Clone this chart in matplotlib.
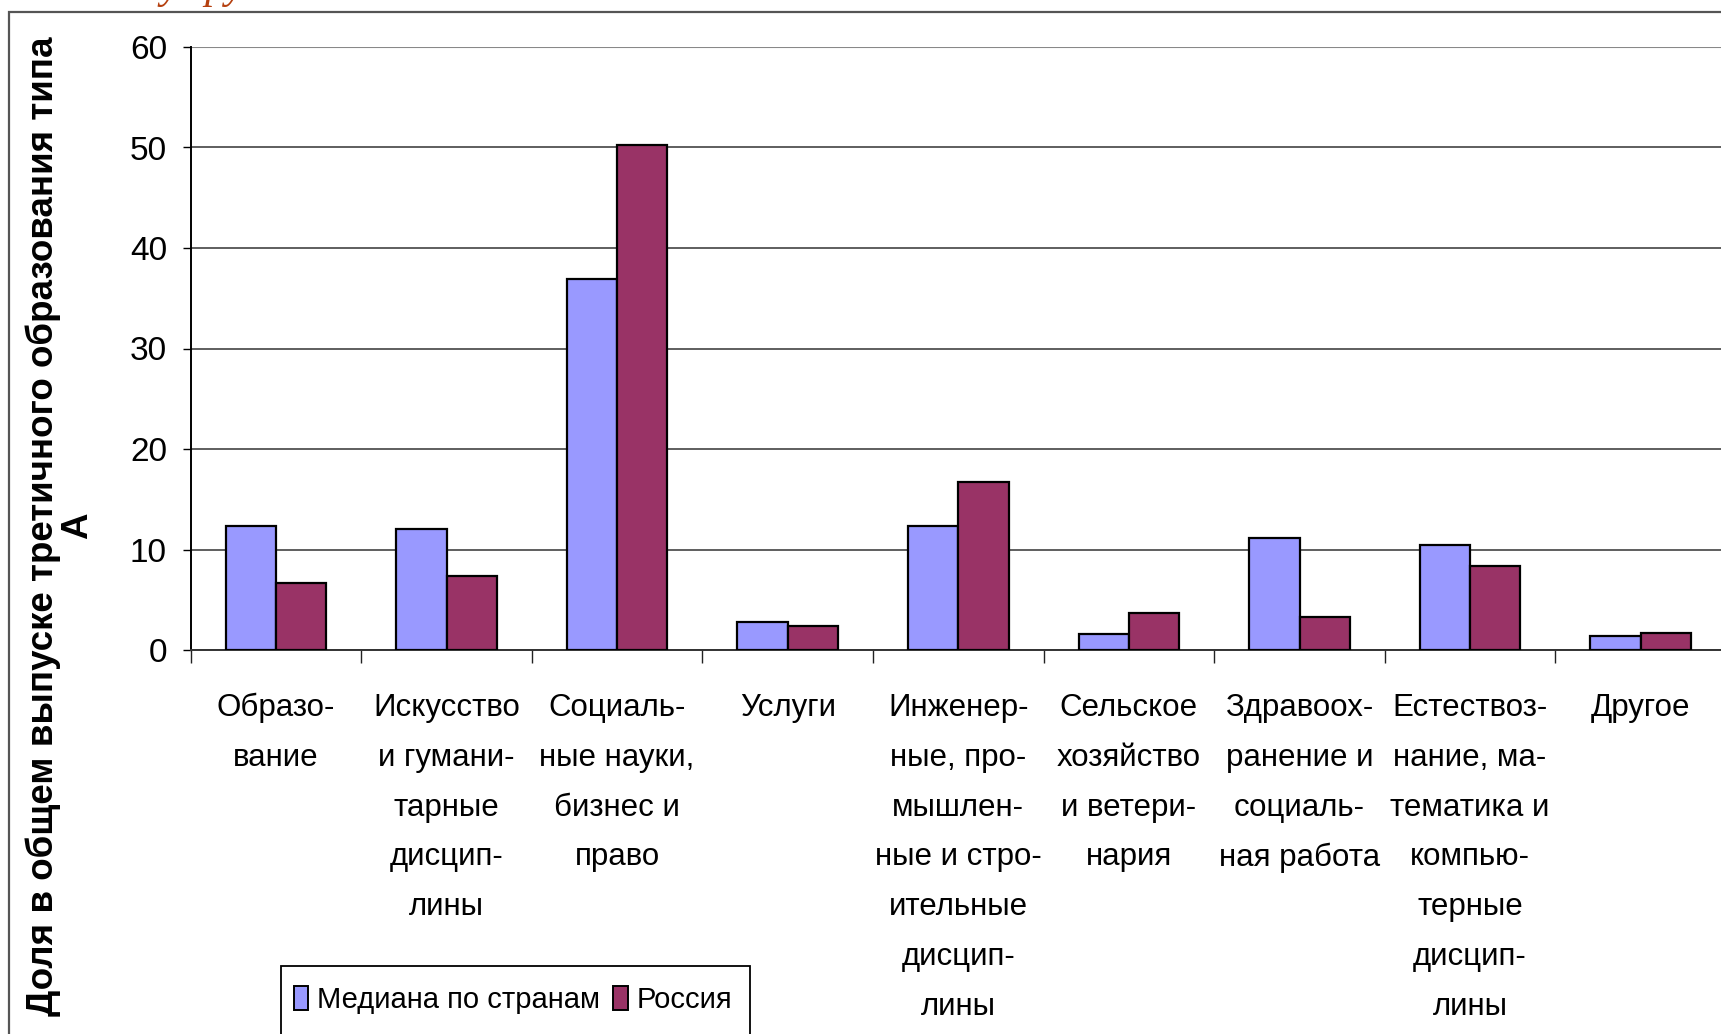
import matplotlib
matplotlib.use("Agg")
import matplotlib.pyplot as plt
from matplotlib.patches import Rectangle, Patch
import numpy as np

categories = [
    "Образо-\nвание",
    "Искусство\nи гумани-\nтарные\nдисцип-\nлины",
    "Социаль-\nные науки,\nбизнес и\nправо",
    "Услуги",
    "Инженер-\nные, про-\nмышлен-\nные и стро-\nительные\nдисцип-\nлины",
    "Сельское\nхозяйство\nи ветери-\nнария",
    "Здравоох-\nранение и\nсоциаль-\nная работа",
    "Естествоз-\nнание, ма-\nтематика и\nкомпью-\nтерные\nдисцип-\nлины",
    "Другое",
]
median_values = [12.3, 12.0, 36.9, 2.8, 12.3, 1.6, 11.1, 10.4, 1.35]
russia_values = [6.7, 7.4, 50.2, 2.4, 16.7, 3.7, 3.3, 8.4, 1.7]
series_names = ["Медиана по странам", "Россия"]
y_ticks = [0, 10, 20, 30, 40, 50, 60]
y_label = "Доля в общем выпуске третичного образования типа\nА"
title_fragment = "у гру"

plt.rcParams["font.family"] = ["Liberation Sans", "DejaVu Sans"]

W, H = 1721, 1034
fig = plt.figure(figsize=(W / 100, H / 100), dpi=100)

# axes geometry (pixels)
x0, x1 = 190.6, 1726.0
y0, y1 = 650.0, 47.0
ax = fig.add_axes([x0 / W, 1 - y0 / H, (x1 - x0) / W, (y0 - y1) / H])

x = np.arange(len(categories))
bw = 0.295
ax.bar(x - bw / 2, median_values, bw, color="#9999FF", edgecolor="black", linewidth=1.6, zorder=3)
ax.bar(x + bw / 2, russia_values, bw, color="#993366", edgecolor="black", linewidth=1.6, zorder=3)

ax.set_xlim(-0.5, len(categories) - 0.5)
ax.set_ylim(0, 60)
ax.set_yticks(y_ticks)
ax.set_yticklabels([str(v) for v in y_ticks], fontsize=24)
ax.yaxis.grid(True, color="#333333", linewidth=1.1, zorder=0)
ax.set_axisbelow(True)

ax.set_xticks(np.arange(-0.5, len(categories) + 0.5, 1.0))
ax.set_xticklabels([])
ax.set_xticks(x, minor=True)
ax.set_xticklabels(categories, minor=True, fontsize=22.5, va="top")
ax.tick_params(axis="x", which="minor", length=0, pad=31)
ax.tick_params(axis="x", which="major", length=9, width=1.0, direction="out", color="#222222")
ax.tick_params(axis="y", length=6, width=1.0, direction="out", pad=11, color="black")
for lab in ax.get_xticklabels(minor=True):
    lab.set_linespacing(1.86)

for s in ["top", "right"]:
    ax.spines[s].set_visible(False)
ax.spines["left"].set_color("black")
ax.spines["left"].set_linewidth(1.4)
ax.spines["bottom"].set_color("#333333")
ax.spines["bottom"].set_linewidth(1.4)
ax.axhline(60, color="#888888", linewidth=1.5, zorder=1)

fig.text(60 / W, 1 - 526 / H, y_label, rotation=90, ha="center", va="center",
         fontsize=26.5, fontweight="bold", multialignment="center", linespacing=0.95)

handles = [Patch(facecolor="#9999FF", edgecolor="black", linewidth=1.4),
           Patch(facecolor="#993366", edgecolor="black", linewidth=1.4)]
leg = fig.legend(handles, series_names, loc="center left",
                 bbox_to_anchor=(285 / W, 1 - 1000 / H), ncol=2, fontsize=21,
                 frameon=False, borderpad=0.3,
                 handlelength=0.5, handleheight=0.9, handletextpad=0.3,
                 columnspacing=0.45, borderaxespad=0)

# legend frame (extends past the bottom edge, as in the reference)
fig.patches.append(Rectangle((281 / W, -0.05), (750 - 281) / W, 0.05 + 1 - 966 / H,
                             transform=fig.transFigure, fill=False, edgecolor="black",
                             linewidth=1.3, zorder=5))

# outer chart border
fig.patches.append(Rectangle((9 / W, -0.1), 1.2, 1.1 - 12 / H, transform=fig.transFigure,
                             fill=False, edgecolor="#555555", linewidth=1.6, zorder=0))

# cut-off title fragment at the very top
fig.text(160 / W, 1 + 2 / H, title_fragment, fontsize=30, style="italic", color="#B5400F",
         family=["Liberation Serif", "DejaVu Serif"], ha="left", va="baseline")

fig.savefig("out.png", dpi=100)
